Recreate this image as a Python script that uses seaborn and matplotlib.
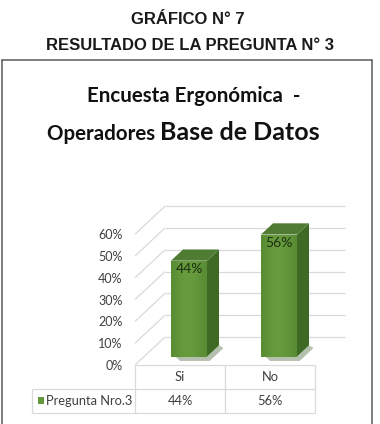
import numpy as np
import pandas as pd
import matplotlib
matplotlib.use("Agg")
import matplotlib.pyplot as plt
import matplotlib.transforms as mtransforms
from matplotlib.patches import Polygon, Rectangle
import seaborn as sns

# ---------------- data ----------------
categories = ["Si", "No"]
values = [0.44, 0.56]
value_labels = ["44%", "56%"]
tick_values = [0.0, 0.1, 0.2, 0.3, 0.4, 0.5, 0.6]
tick_labels = ["0%", "10%", "20%", "30%", "40%", "50%", "60%"]
series_name = "Pregunta Nro.3"
header_line1 = "GRÁFICO N° 7"
header_line2 = "RESULTADO DE LA PREGUNTA N° 3"
title_line1 = "Encuesta Ergonómica  -"
title_line2a = "Operadores "
title_line2b = "Base de Datos"

# ---------------- style ----------------
W, H = 380, 424
sns.set_theme(style="white")
plt.rcParams['font.family'] = ['Lato', 'DejaVu Sans']

FRONT = "#64993b"
FRONT_LIGHT = "#6fa545"
FRONT_DARK = "#5a8d33"
SIDE = "#3e6a26"
TOP = "#4f7c32"
GRID = "#d9d9d9"
TEXT = "#404040"

fig = plt.figure(figsize=(W / 100, H / 100), dpi=100)
fig.patch.set_facecolor("white")


def fx(px):
    return px / W


def fy(py):
    return 1 - py / H


# plot area (front plane of the 3-D box)
ax_left, ax_right, ax_top, ax_bottom = 135, 345, 195, 365
px_per_cat = 90.0
px_per_unit = 218.0
DX = 30 / px_per_cat        # full depth offset, x (data units)
DY = 28 / px_per_unit       # full depth offset, y (data units)
ax = fig.add_axes([fx(ax_left), fy(ax_bottom),
                   (ax_right - ax_left) / W, (ax_bottom - ax_top) / H])
ax.set_facecolor("none")

df = pd.DataFrame({"cat": categories, "val": values})
sns.barplot(data=df, x="cat", y="val", ax=ax, width=0.4, color=FRONT,
            saturation=1, edgecolor="none", linewidth=0, zorder=4)

xmin = -0.5
xmax = xmin + (ax_right - ax_left) / px_per_cat
ax.set_xlim(xmin, xmax)
ax.set_ylim(0, (ax_bottom - ax_top) / px_per_unit)
n = len(categories)

# walls: left-wall diagonals and back-wall gridlines
for t in tick_values:
    ax.plot([xmin, xmin + DX], [t, t + DY], color=GRID, lw=0.9,
            zorder=1, clip_on=False, solid_capstyle="butt")
    ax.plot([xmin + DX, n - 0.5 + DX], [t + DY, t + DY], color=GRID,
            lw=0.9, zorder=1, clip_on=False, solid_capstyle="butt")

# 3-D bars built on the seaborn patches
f0 = 0.3     # front position in depth
fd = 0.4     # bar depth
grad = np.array([[0.0, 0.35, 0.55, 0.6, 0.5, 0.3, 0.0]])
cmap = matplotlib.colors.LinearSegmentedColormap.from_list(
    "g", [FRONT_DARK, FRONT_LIGHT])
for p, lab in zip(ax.patches, value_labels):
    w = p.get_width()
    h = p.get_height()
    x0 = p.get_x() + f0 * DX
    y0 = f0 * DY
    p.set_x(x0)
    p.set_y(y0)
    ddx, ddy = fd * DX, fd * DY
    # soft shadow on the floor
    sh = Polygon([(x0 + w, y0), (x0 + w + ddx, y0 + ddy),
                  (x0 + w + ddx + 0.05, y0 + ddy - 0.012),
                  (x0 + w + 0.03, y0 - 0.02), (x0 + 0.1, y0 - 0.02),
                  (x0 + 0.05, y0)],
                 closed=True, facecolor="#2d4d1a", alpha=0.35,
                 edgecolor="none", zorder=3)
    ax.add_patch(sh)
    side = Polygon([(x0 + w, y0), (x0 + w + ddx, y0 + ddy),
                    (x0 + w + ddx, y0 + h + ddy), (x0 + w, y0 + h)],
                   closed=True, facecolor=SIDE, edgecolor="none", zorder=4)
    top = Polygon([(x0, y0 + h), (x0 + ddx, y0 + h + ddy),
                   (x0 + w + ddx, y0 + h + ddy), (x0 + w, y0 + h)],
                  closed=True, facecolor=TOP, edgecolor="none", zorder=4)
    ax.add_patch(side)
    ax.add_patch(top)
    im = ax.imshow(grad, extent=[x0, x0 + w, y0, y0 + h], cmap=cmap,
                   aspect="auto", zorder=4.5, interpolation="bicubic",
                   vmin=0, vmax=1)
    im.set_clip_path(p)
    ax.text(x0 + w / 2, y0 + h - 0.012, lab, ha="center", va="top",
            fontsize=10, color="#1d2e12", zorder=6)

ax.set_xlim(xmin, xmax)
ax.set_ylim(0, (ax_bottom - ax_top) / px_per_unit)
ax.set_xticks([])
ax.set_xlabel("")
ax.set_ylabel("")
ax.set_yticks(tick_values, tick_labels)
ax.tick_params(axis="y", length=0, pad=9, labelsize=9, labelcolor=TEXT)
for s in ax.spines.values():
    s.set_visible(False)

# ---------------- data table ----------------
bt = mtransforms.blended_transform_factory(ax.transData, fig.transFigure)
leg_x = xmin + (32 - ax_left) / px_per_cat
r0, r1, r2 = fy(365), fy(389), fy(413)
tab_lines = [
    ([xmin, n - 0.5], [r0, r0]),
    ([leg_x, n - 0.5], [r1, r1]),
    ([leg_x, n - 0.5], [r2, r2]),
    ([leg_x, leg_x], [r1, r2]),
]
for i in range(n + 1):
    tab_lines.append(([i - 0.5, i - 0.5], [r0, r2]))
for xs, ys in tab_lines:
    ax.plot(xs, ys, transform=bt, color=GRID, lw=0.9, clip_on=False,
            zorder=2, solid_capstyle="butt")

for i, (c, lab) in enumerate(zip(categories, value_labels)):
    ax.text(i, (r0 + r1) / 2, c, transform=bt, ha="center", va="center",
            fontsize=9.3, color=TEXT, clip_on=False)
    ax.text(i, (r1 + r2) / 2, lab, transform=bt, ha="center", va="center",
            fontsize=9.3, color=TEXT, clip_on=False)

fig.patches.append(Rectangle((fx(38), fy(404)), fx(6), 7 / H,
                             transform=fig.transFigure, facecolor=FRONT,
                             edgecolor="none"))
fig.text(fx(46), (r1 + r2) / 2, series_name, ha="left", va="center",
         fontsize=9.3, color=TEXT)

# ---------------- frame ----------------
frame_c = "#5a5a5a"
for xs, ys in [([fx(2), fx(2)], [fy(60), 0]),
               ([fx(2), fx(372)], [fy(60), fy(60)]),
               ([fx(372), fx(372)], [fy(60), 0])]:
    fig.add_artist(matplotlib.lines.Line2D(xs, ys, transform=fig.transFigure,
                                           color=frame_c, lw=1.1))

# ---------------- headers & titles ----------------
fig.text(fx(188), fy(24.5), header_line1, ha="center", va="baseline",
         fontsize=12, fontweight="bold", family="Liberation Sans",
         color="#1a1a1a")
fig.text(fx(190), fy(49.5), header_line2, ha="center", va="baseline",
         fontsize=12, fontweight="bold", family="Liberation Sans",
         color="#1a1a1a")

fig.text(fx(193.5), fy(101.5), title_line1, ha="center", va="baseline",
         fontsize=14.8, fontweight="bold", color="#111111")
t1 = fig.text(fx(47), fy(139.5), title_line2a, ha="left", va="baseline",
              fontsize=14.8, fontweight="bold", color="#111111")
fig.canvas.draw()
bb = t1.get_window_extent()
fig.text(bb.x1 / fig.bbox.width, fy(139.5), title_line2b, ha="left",
         va="baseline", fontsize=18, fontweight="bold", color="#111111")

fig.savefig("out.png", dpi=100)
